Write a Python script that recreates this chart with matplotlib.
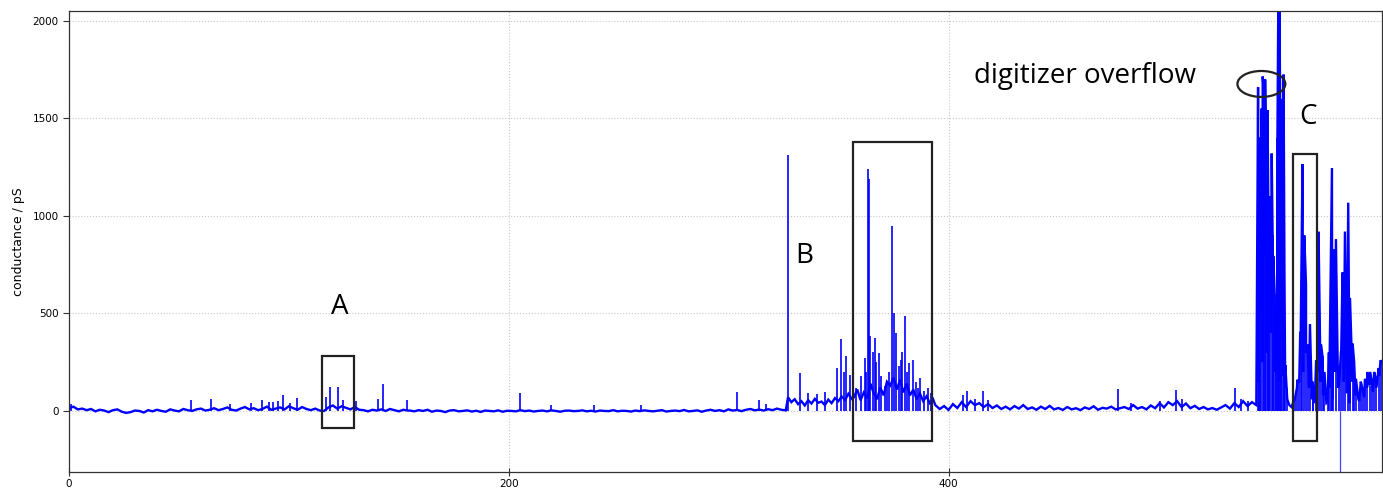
import matplotlib
matplotlib.use("Agg")
import matplotlib.pyplot as plt
from matplotlib.patches import Rectangle, Ellipse
import numpy as np

# --- traza: piso de ruido por tramos (t inicio, t fin, valores en pS) ---
seg_quiet_a = (0, 154, [14, 22, 8, 12, 4, 10, -2, 6, 2, -6, 4, 8, -4, -10, -6, 2, 0, -8, 4, -2,
                        6, 0, -4, 8, 2, -2, 10, 4, 0, 8, 12, 2, 6, 14, 4, 10, 18, 6, 2, 12,
                        20, 8, 14, 4, 10, 22, 6, 12, 18, 8, 24, 14, 6, 20, 10, 4, 12, 2, 0, 18,
                        28, 12, 24, 16, 8, 20, 6, 4, -2, 6, 2, 8, 0, 10, 4, -2, 6, 2])
seg_quiet_b = (155, 326, [2, -2, 4, 0, 6, -4, 2, 0, -6, 2, 4, -2, 0, 3, -3, 1, -5, 2, 0, -2,
                          3, -4, 1, 0, -2, 4, -1, 2, -3, 0, 2, -2, 3, 0, -4, 1, 2, -1, 0, 3,
                          -2, 1, -3, 2, 0, -1, 4, -2, 1, 0, -3, 2, -1, 3, 0, -2, 1, 4, -3, 0,
                          2, -1, 5, -2, 0, 3, -4, 2, 6, 0, 4, -2, 8, 2, 5, -1, 6, 10, 3, 7,
                          2, 9, 4, 12, 6, 3])
seg_pre_b = (327, 356, [70, 45, 60, 35, 50, 28, 55, 38, 62, 42, 48, 30, 58, 40, 66, 50, 74, 56, 88, 62])
seg_box_b = (357, 393, [70, 110, 55, 95, 65, 140, 90, 60, 120, 80, 150, 130, 170, 110, 160, 95,
                        140, 80, 110, 60, 90, 50, 75, 40, 60])
seg_mid = (394, 540, [30, 10, 25, 5, 35, 15, 45, 20, 50, 30, 40, 20, 35, 15, 28, 10, 22, 8, 25, 12,
                      30, 10, 18, 6, 22, 10, 26, 8, 15, 5, 20, 8, 14, 4, 18, 10, 24, 6, 16, 12,
                      22, 8, 14, 20, 10, 30, 12, 20, 8, 28, 14, 40, 18, 45, 30, 50, 20, 38, 14, 26,
                      10, 20, 8, 15, 6, 18, 30, 12, 40, 20, 50, 25, 45, 30])
seg_overflow = (541, 555, [150, 500, 250, 800, 300, 900, 400, 600, 200, 350, 150, 450, 180, 120, 60, 30])
seg_end = (556, 597, [20, 60, 160, 400, 200, 300, 120, 60, 40, 200, 150, 80, 40, 120, 60, 200,
                      120, 300, 150, 90, 40, 150, 80, 60, 140, 70, 120, 200, 100, 160, 220, 250])
segments = [seg_quiet_a, seg_quiet_b, seg_pre_b, seg_box_b, seg_mid, seg_overflow, seg_end]

# --- picos (tiempo, conductancia) ---
spike_t = [1, 55.7, 64.5, 73.2, 82.7, 87.9, 91, 93, 95, 97.4, 100.5, 103.9, 116.7, 118.6, 122.4,
           124.7, 130.5, 140.6, 142.6, 153.9,
           205.3, 219.4, 238.6, 260.3, 304, 314, 316.8, 326.8,
           332.3, 336, 340, 344, 349.4, 351.2, 352.4, 353.5, 355,
           358, 360, 361.8, 362.5, 363.3, 364, 364.5, 365.5, 366.4, 367, 368.3, 369.5, 370.9,
           372, 373, 374.4, 375.1, 376.2, 377.4, 378.5, 379, 380.3, 381, 382, 383.8, 385, 386,
           387.1, 389, 390.5, 392.1,
           406.5, 408.5, 412, 415.6, 418, 477, 483, 496, 503.5, 506, 530.5, 533, 536,
           540.8, 541.3, 541.8, 542.3, 542.9, 543.4, 544, 544.5, 545.1, 545.5, 545.9, 546.4,
           547, 547.4, 547.7, 548.3, 549, 549.6, 550, 550.5, 550.9, 551.2, 551.8, 552.4,
           552.8, 553.2, 553.8,
           557.5, 558.5, 559.5, 560.2, 561, 561.8, 562.6, 563.3, 564.4, 565.6, 566, 567.2,
           568.3, 569.4, 570.1, 571, 572.4, 573, 573.8, 574.4, 575.1, 576.2, 577.7, 578.6,
           579.2, 580.3, 581.8, 582.6, 583.8, 584.5, 585.3, 586.8, 587.5, 588.5, 589.4, 590.5,
           591.6, 592.5, 593.6, 594.5, 595.9, 596.5]
spike_g = [35, 58, 62, 38, 42, 55, 48, 45, 50, 82, 42, 68, 72, 124, 122,
           56, 52, 62, 138, 58,
           92, 28, 28, 32, 98, 58, 36, 1312,
           195, 90, 85, 95, 222, 370, 200, 280, 186,
           120, 180, 272, 200, 1242, 1190, 382, 300, 375, 250, 298, 180, 126,
           150, 200, 950, 500, 400, 228, 260, 300, 485, 200, 245, 262, 150, 120,
           170, 100, 120, 92,
           82, 102, 60, 102, 55, 112, 42, 50, 106, 60, 120, 60, 50,
           1660, 1400, 1392, 1550, 1715, 1640, 1700, 1300, 1542, 1000, 740, 1100,
           1320, 900, 795, 600, 235, 1400, 2100, 2100, 1500, 1236, 1600, 1725,
           700, 235, 120,
           60, 120, 145, 400, 1266, 900, 650, 340, 445, 150, 100, 260,
           920, 340, 280, 200, 45, 300, 700, 1246, 830, 880, 150, 300,
           710, 920, 1068, 580, 345, 250, 165, 50, 150, 100, 165, 200,
           130, 150, 200, 120, 180, 260]
neg_t = [578]
neg_g = [-400]
dense_from = 540  # a partir de aquí los picos van dentro de la traza

# --- anotaciones ---
boxes = {"A": (115, 129.5, -87, 282), "B": (356.4, 392.7, -154, 1379), "C": (556.8, 567.7, -154, 1318)}
labels = {"A": (123, 533), "B": (334.5, 795), "C": (563.6, 1508)}

fig = plt.figure(figsize=(13.83, 4.92), dpi=100)
ax = fig.add_axes([0.0499, 0.0407, 0.9496, 0.9369])

t_all, g_all = [], []
for t0, t1, vals in segments:
    t_all.append(np.linspace(t0, t1, len(vals)))
    g_all.append(np.array(vals, dtype=float))
t_all = np.concatenate(t_all)
g_all = np.concatenate(g_all)

st = np.array(spike_t)
sg = np.array(spike_g, dtype=float)
dense = st >= dense_from

# picos densos mezclados en la traza
t_tr = np.concatenate([t_all, st[dense]])
g_tr = np.concatenate([g_all, sg[dense]])
order = np.argsort(t_tr, kind="stable")
t_tr, g_tr = t_tr[order], g_tr[order]

ax.plot(t_tr, g_tr, color="#0000ff", lw=1.7, solid_joinstyle="miter")
ax.vlines(st[~dense], 0, sg[~dense], color="#0000ff", lw=1.2)
ax.vlines(st[dense], 0, sg[dense], color="#0000ff", lw=1.2)
ax.vlines(neg_t, 0, neg_g, color="#4040ff", lw=0.9)

for k, (x0, x1, y0, y1) in boxes.items():
    ax.add_patch(Rectangle((x0, y0), x1 - x0, y1 - y0, fill=False, ec="#222222", lw=1.6, zorder=5))
    ax.text(labels[k][0], labels[k][1], k, fontsize=20, family="Open Sans",
            ha="center", va="center", color="black")

ax.add_patch(Ellipse((542.3, 1677), 21.8, 133, fill=False, ec="#222222", lw=1.6, zorder=5))
ax.text(411.8, 1718, "digitizer overflow", fontsize=20, family="Open Sans",
        ha="left", va="center", color="black")

ax.set_xlim(0, 597.3)
ax.set_ylim(-313, 2051)
ax.set_xticks([0, 200, 400])
ax.set_yticks([0, 500, 1000, 1500, 2000])
ax.grid(True, color="#c8c8c8", ls=":", lw=0.8)
ax.set_axisbelow(True)
ax.tick_params(axis="both", labelsize=7.5, length=4, width=0.8, color="#333333")
ax.tick_params(axis="x", direction="inout", length=6, pad=2)
ax.set_ylabel("conductance / pS", fontsize=9, labelpad=5)
for s in ax.spines.values():
    s.set_linewidth(0.9)
    s.set_color("#333333")

fig.savefig("out.png", dpi=100)
